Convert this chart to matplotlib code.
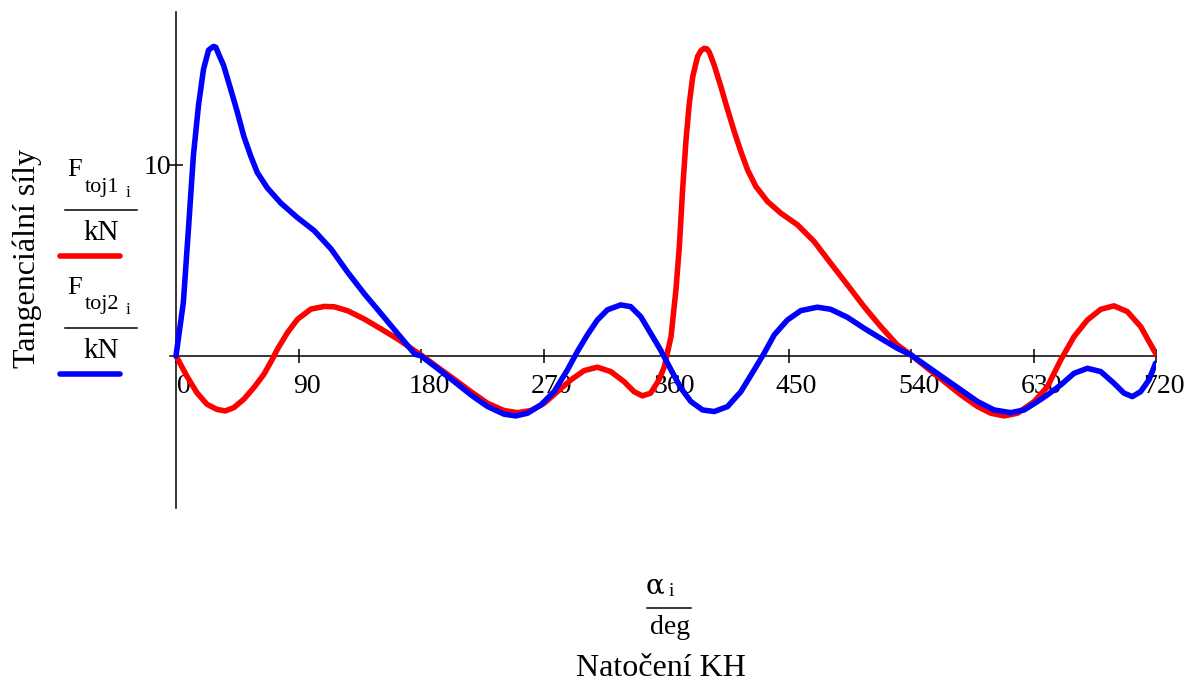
import matplotlib
matplotlib.use("Agg")
import matplotlib.pyplot as plt
from matplotlib.lines import Line2D
from matplotlib.transforms import ScaledTranslation

plt.rcParams['font.family'] = ['Liberation Serif', 'DejaVu Serif']

# ---------------- data ----------------
red_deg = [0, 7.9, 15.3, 22.7, 30.1, 36.2, 42.4, 49.8, 57.2, 64.6, 70.8, 74.5, 81.9, 89.3,
           99.1, 109, 116.4, 126.2, 138.6, 150.9, 163.2, 175.5, 180, 192.2, 204.4, 216.7,
           228.9, 241.1, 250.9, 260.7, 270.5, 280.2, 290, 299.8, 309.6, 319.4, 329.1, 336.5,
           342.6, 348.7, 354.8, 358.8, 363.7, 367.3, 369.8, 372.2, 374.7, 377.1, 379.6,
           383.2, 385.7, 388.1, 390.1, 391.8, 395.5, 400.3, 405.2, 410.1, 415, 419.9, 426,
           434.6, 444.4, 456.6, 468.8, 481, 493.3, 505.5, 517.7, 529.9, 540, 552.2, 564.4,
           576.7, 588.9, 598.7, 608.5, 618.2, 630.5, 640.2, 650, 659.8, 669.6, 679.4, 689.1,
           698.9, 708.7, 720]
red_val = [0, -1.05, -1.92, -2.53, -2.8, -2.88, -2.71, -2.27, -1.66, -0.96, -0.17, 0.35, 1.22,
           1.92, 2.45, 2.59, 2.57, 2.36, 1.92, 1.4, 0.87, 0.26, 0.05, -0.59, -1.22, -1.87,
           -2.48, -2.86, -2.97, -2.86, -2.48, -1.87, -1.26, -0.77, -0.59, -0.82, -1.34, -1.87,
           -2.09, -1.95, -1.26, -0.56, 1.01, 3.46, 5.72, 8.69, 11.3, 13.2, 14.6,
           15.67, 15.98, 16.1, 16.07, 15.9, 15.2, 14.1, 12.9, 11.75, 10.7, 9.74, 8.87,
           8.08, 7.47, 6.86, 5.99, 4.85, 3.72, 2.58, 1.54, 0.58, 0.05, -0.65, -1.34,
           -2.04, -2.65, -3.0, -3.14, -3.0, -2.39, -1.61, -0.21, 1.01, 1.88, 2.44, 2.62,
           2.32, 1.54, 0.1]

blue_deg = [0, 5.4, 9.1, 12.8, 16.5, 20.2, 23.9, 25.6, 27.6, 29.3, 31.3, 35, 40, 44.9, 49.8,
            54.7, 59.7, 67, 77, 89, 101.6, 113.9, 126.2, 138.6, 150.9, 163.2, 175.5, 180, 192,
            204.4, 216.7, 228.9, 241.1, 249.7, 258.2, 268, 277.8, 287.6, 294.9, 302.2, 309.6,
            316.9, 326.7, 334, 341.4, 348.7, 356, 363.7, 371, 378.3, 386.9, 395.5, 405.2, 415,
            424.8, 432.1, 439.5, 449.2, 459, 471.2, 481, 493.3, 505.5, 517.7, 529.9, 540, 552.2,
            564.4, 576.7, 588.9, 601.1, 613.3, 623.1, 632.9, 640.2, 650, 659.8, 669.6, 679.4,
            689.1, 696.5, 702.6, 708.7, 714.8, 719.7]
blue_val = [0, 2.8, 6.6, 10.5, 13.1, 15.0, 16.0, 16.1, 16.2, 16.15, 15.8, 15.2, 14.0, 12.8, 11.5,
            10.5, 9.6, 8.8, 8.0, 7.25, 6.55, 5.6, 4.37, 3.23, 2.19, 1.14, 0.09, 0.0, -0.65,
            -1.34, -2.04, -2.65, -3.05, -3.14, -3.0, -2.57, -1.87, -0.73, 0.23, 1.1, 1.88,
            2.41, 2.67, 2.58, 2.06, 1.19, 0.31, -0.73, -1.69, -2.39, -2.83, -2.91, -2.65, -1.87,
            -0.73, 0.14, 1.1, 1.88, 2.37, 2.55, 2.44, 2.02, 1.45, 0.92, 0.4, 0.05, -0.56,
            -1.17, -1.78, -2.39, -2.83, -2.97, -2.83, -2.39, -2.04, -1.52, -0.91, -0.65, -0.82,
            -1.43, -1.95, -2.13, -1.87, -1.26, -0.38]

x_ticks = [0, 90, 180, 270, 360, 450, 540, 630, 720]
x_ticklabels = ['0', '90', '180', '270', '360', '450', '540', '630', '720']
y_ticks = [10]
y_ticklabels = ['10']

# ---------------- figure ----------------
W, H = 1189, 693
fig = plt.figure(figsize=(W / 100, H / 100), dpi=100)

def fx(px):
    return px / W

def fy(py):
    return 1 - py / H

ppd = 980 / 720.0
ax = fig.add_axes([fx(170), fy(508), (1156 - 170) / W, 496 / H])
ax.set_xlim(-6 / ppd, 720)
ax.set_ylim(-7.96, 18.0)

for s in ['top', 'right']:
    ax.spines[s].set_visible(False)
ax.spines['left'].set_position(('data', 0))
ax.spines['bottom'].set_position(('data', 0))
for s in ['left', 'bottom']:
    ax.spines[s].set_linewidth(1.1)
    ax.spines[s].set_zorder(1.5)

ax.plot(red_deg, red_val, color='#ff0000', lw=4.0, solid_capstyle='round',
        solid_joinstyle='round', zorder=3)
ax.plot(blue_deg, blue_val, color='#0000ff', lw=4.0, solid_capstyle='round',
        solid_joinstyle='round', zorder=3)

ax.set_xticks(x_ticks)
ax.set_xticklabels(x_ticklabels)
ax.set_yticks(y_ticks)
ax.set_yticklabels(y_ticklabels)
ax.tick_params(axis='x', direction='inout', length=9.4, width=1.1, pad=8, labelsize=20)
ax.tick_params(axis='y', direction='inout', length=9.4, width=1.1, pad=-1, labelsize=20)
off = ScaledTranslation(8 / 100, 0, fig.dpi_scale_trans)
for lab in ax.get_xticklabels():
    lab.set_transform(lab.get_transform() + off)

# y label
fig.text(fx(27), fy(259), 'Tangenciální síly', rotation=90, fontsize=23,
         ha='center', va='center')

# legend-like fraction labels
def frac_label(dy, sub, color):
    fig.text(fx(67.5), fy(176 + dy), 'F', fontsize=19, ha='left', va='baseline')
    fig.text(fx(84.5), fy(191.7 + dy), sub, fontsize=16, ha='left', va='baseline')
    fig.text(fx(125.5), fy(196.7 + dy), 'i', fontsize=12.5, ha='left', va='baseline')
    fig.add_artist(Line2D([fx(65), fx(137)], [fy(210 + dy), fy(210 + dy)], lw=1.1,
                          color='black'))
    fig.text(fx(100.8), fy(240 + dy), 'kN', fontsize=21, ha='center', va='baseline')
    fig.add_artist(Line2D([fx(60), fx(120)], [fy(256 + dy), fy(256 + dy)], lw=4.0,
                          color=color, solid_capstyle='round'))

frac_label(0, 'toj1', '#ff0000')
frac_label(117.5, 'toj2', '#0000ff')

# x label
fig.text(fx(646), fy(593.5), 'α', fontsize=20, family='DejaVu Serif',
         ha='left', va='baseline')
fig.text(fx(668.5), fy(595.5), 'i', fontsize=14, ha='left', va='baseline')
fig.add_artist(Line2D([fx(647), fx(691)], [fy(608.3), fy(608.3)], lw=1.1, color='black'))
fig.text(fx(670), fy(633.5), 'deg', fontsize=20, ha='center', va='baseline')
fig.text(fx(661), fy(676), 'Natočení KH', fontsize=23, ha='center', va='baseline')

fig.savefig('out.png', dpi=100)
